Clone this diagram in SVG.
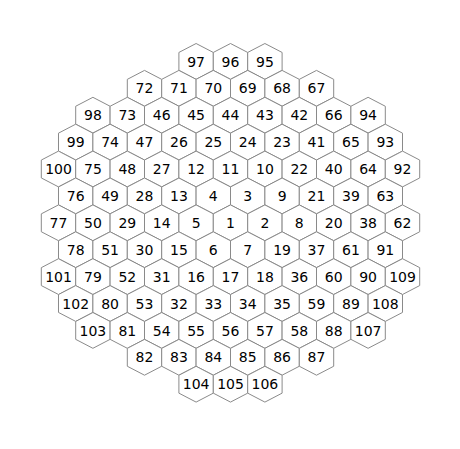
<svg xmlns="http://www.w3.org/2000/svg" xmlns:xlink="http://www.w3.org/1999/xlink" width="460" height="449" viewBox="0 0 460 449">
<style>
.h{fill:#ffffff;stroke:#8a8a8a;stroke-width:1}
text{font-family:"DejaVu Sans","Liberation Sans",sans-serif;font-size:14px;fill:#000;text-anchor:middle}
</style>
<defs>
<polygon id="hex" class="h" points="0,-17.9 17.2,-8.95 17.2,8.95 0,17.9 -17.2,8.95 -17.2,-8.95"/>
</defs>
<rect width="460" height="449" fill="#ffffff"/>
<g id="nodes">
<g id="n97" transform="translate(196.1,61.4)"><use href="#hex"/><text y="5.1">97</text></g>
<g id="n96" transform="translate(230.5,61.4)"><use href="#hex"/><text y="5.1">96</text></g>
<g id="n95" transform="translate(264.9,61.4)"><use href="#hex"/><text y="5.1">95</text></g>

<g id="n72" transform="translate(144.5,88.3)"><use href="#hex"/><text y="5.1">72</text></g>
<g id="n71" transform="translate(178.9,88.3)"><use href="#hex"/><text y="5.1">71</text></g>
<g id="n70" transform="translate(213.3,88.3)"><use href="#hex"/><text y="5.1">70</text></g>
<g id="n69" transform="translate(247.7,88.3)"><use href="#hex"/><text y="5.1">69</text></g>
<g id="n68" transform="translate(282.1,88.3)"><use href="#hex"/><text y="5.1">68</text></g>
<g id="n67" transform="translate(316.5,88.3)"><use href="#hex"/><text y="5.1">67</text></g>

<g id="n98" transform="translate(92.9,115.2)"><use href="#hex"/><text y="5.1">98</text></g>
<g id="n73" transform="translate(127.3,115.2)"><use href="#hex"/><text y="5.1">73</text></g>
<g id="n46" transform="translate(161.7,115.2)"><use href="#hex"/><text y="5.1">46</text></g>
<g id="n45" transform="translate(196.1,115.2)"><use href="#hex"/><text y="5.1">45</text></g>
<g id="n44" transform="translate(230.5,115.2)"><use href="#hex"/><text y="5.1">44</text></g>
<g id="n43" transform="translate(264.9,115.2)"><use href="#hex"/><text y="5.1">43</text></g>
<g id="n42" transform="translate(299.3,115.2)"><use href="#hex"/><text y="5.1">42</text></g>
<g id="n66" transform="translate(333.7,115.2)"><use href="#hex"/><text y="5.1">66</text></g>
<g id="n94" transform="translate(368.1,115.2)"><use href="#hex"/><text y="5.1">94</text></g>

<g id="n99" transform="translate(75.7,142.1)"><use href="#hex"/><text y="5.1">99</text></g>
<g id="n74" transform="translate(110.1,142.1)"><use href="#hex"/><text y="5.1">74</text></g>
<g id="n47" transform="translate(144.5,142.1)"><use href="#hex"/><text y="5.1">47</text></g>
<g id="n26" transform="translate(178.9,142.1)"><use href="#hex"/><text y="5.1">26</text></g>
<g id="n25" transform="translate(213.3,142.1)"><use href="#hex"/><text y="5.1">25</text></g>
<g id="n24" transform="translate(247.7,142.1)"><use href="#hex"/><text y="5.1">24</text></g>
<g id="n23" transform="translate(282.1,142.1)"><use href="#hex"/><text y="5.1">23</text></g>
<g id="n41" transform="translate(316.5,142.1)"><use href="#hex"/><text y="5.1">41</text></g>
<g id="n65" transform="translate(350.9,142.1)"><use href="#hex"/><text y="5.1">65</text></g>
<g id="n93" transform="translate(385.3,142.1)"><use href="#hex"/><text y="5.1">93</text></g>

<g id="n100" transform="translate(58.5,169)"><use href="#hex"/><text y="5.1">100</text></g>
<g id="n75" transform="translate(92.9,169)"><use href="#hex"/><text y="5.1">75</text></g>
<g id="n48" transform="translate(127.3,169)"><use href="#hex"/><text y="5.1">48</text></g>
<g id="n27" transform="translate(161.7,169)"><use href="#hex"/><text y="5.1">27</text></g>
<g id="n12" transform="translate(196.1,169)"><use href="#hex"/><text y="5.1">12</text></g>
<g id="n11" transform="translate(230.5,169)"><use href="#hex"/><text y="5.1">11</text></g>
<g id="n10" transform="translate(264.9,169)"><use href="#hex"/><text y="5.1">10</text></g>
<g id="n22" transform="translate(299.3,169)"><use href="#hex"/><text y="5.1">22</text></g>
<g id="n40" transform="translate(333.7,169)"><use href="#hex"/><text y="5.1">40</text></g>
<g id="n64" transform="translate(368.1,169)"><use href="#hex"/><text y="5.1">64</text></g>
<g id="n92" transform="translate(402.5,169)"><use href="#hex"/><text y="5.1">92</text></g>

<g id="n76" transform="translate(75.7,195.9)"><use href="#hex"/><text y="5.1">76</text></g>
<g id="n49" transform="translate(110.1,195.9)"><use href="#hex"/><text y="5.1">49</text></g>
<g id="n28" transform="translate(144.5,195.9)"><use href="#hex"/><text y="5.1">28</text></g>
<g id="n13" transform="translate(178.9,195.9)"><use href="#hex"/><text y="5.1">13</text></g>
<g id="n4" transform="translate(213.3,195.9)"><use href="#hex"/><text y="5.1">4</text></g>
<g id="n3" transform="translate(247.7,195.9)"><use href="#hex"/><text y="5.1">3</text></g>
<g id="n9" transform="translate(282.1,195.9)"><use href="#hex"/><text y="5.1">9</text></g>
<g id="n21" transform="translate(316.5,195.9)"><use href="#hex"/><text y="5.1">21</text></g>
<g id="n39" transform="translate(350.9,195.9)"><use href="#hex"/><text y="5.1">39</text></g>
<g id="n63" transform="translate(385.3,195.9)"><use href="#hex"/><text y="5.1">63</text></g>

<g id="n77" transform="translate(58.5,222.8)"><use href="#hex"/><text y="5.1">77</text></g>
<g id="n50" transform="translate(92.9,222.8)"><use href="#hex"/><text y="5.1">50</text></g>
<g id="n29" transform="translate(127.3,222.8)"><use href="#hex"/><text y="5.1">29</text></g>
<g id="n14" transform="translate(161.7,222.8)"><use href="#hex"/><text y="5.1">14</text></g>
<g id="n5" transform="translate(196.1,222.8)"><use href="#hex"/><text y="5.1">5</text></g>
<g id="n1" transform="translate(230.5,222.8)"><use href="#hex"/><text y="5.1">1</text></g>
<g id="n2" transform="translate(264.9,222.8)"><use href="#hex"/><text y="5.1">2</text></g>
<g id="n8" transform="translate(299.3,222.8)"><use href="#hex"/><text y="5.1">8</text></g>
<g id="n20" transform="translate(333.7,222.8)"><use href="#hex"/><text y="5.1">20</text></g>
<g id="n38" transform="translate(368.1,222.8)"><use href="#hex"/><text y="5.1">38</text></g>
<g id="n62" transform="translate(402.5,222.8)"><use href="#hex"/><text y="5.1">62</text></g>

<g id="n78" transform="translate(75.7,249.7)"><use href="#hex"/><text y="5.1">78</text></g>
<g id="n51" transform="translate(110.1,249.7)"><use href="#hex"/><text y="5.1">51</text></g>
<g id="n30" transform="translate(144.5,249.7)"><use href="#hex"/><text y="5.1">30</text></g>
<g id="n15" transform="translate(178.9,249.7)"><use href="#hex"/><text y="5.1">15</text></g>
<g id="n6" transform="translate(213.3,249.7)"><use href="#hex"/><text y="5.1">6</text></g>
<g id="n7" transform="translate(247.7,249.7)"><use href="#hex"/><text y="5.1">7</text></g>
<g id="n19" transform="translate(282.1,249.7)"><use href="#hex"/><text y="5.1">19</text></g>
<g id="n37" transform="translate(316.5,249.7)"><use href="#hex"/><text y="5.1">37</text></g>
<g id="n61" transform="translate(350.9,249.7)"><use href="#hex"/><text y="5.1">61</text></g>
<g id="n91" transform="translate(385.3,249.7)"><use href="#hex"/><text y="5.1">91</text></g>

<g id="n101" transform="translate(58.5,276.6)"><use href="#hex"/><text y="5.1">101</text></g>
<g id="n79" transform="translate(92.9,276.6)"><use href="#hex"/><text y="5.1">79</text></g>
<g id="n52" transform="translate(127.3,276.6)"><use href="#hex"/><text y="5.1">52</text></g>
<g id="n31" transform="translate(161.7,276.6)"><use href="#hex"/><text y="5.1">31</text></g>
<g id="n16" transform="translate(196.1,276.6)"><use href="#hex"/><text y="5.1">16</text></g>
<g id="n17" transform="translate(230.5,276.6)"><use href="#hex"/><text y="5.1">17</text></g>
<g id="n18" transform="translate(264.9,276.6)"><use href="#hex"/><text y="5.1">18</text></g>
<g id="n36" transform="translate(299.3,276.6)"><use href="#hex"/><text y="5.1">36</text></g>
<g id="n60" transform="translate(333.7,276.6)"><use href="#hex"/><text y="5.1">60</text></g>
<g id="n90" transform="translate(368.1,276.6)"><use href="#hex"/><text y="5.1">90</text></g>
<g id="n109" transform="translate(402.5,276.6)"><use href="#hex"/><text y="5.1">109</text></g>

<g id="n102" transform="translate(75.7,303.5)"><use href="#hex"/><text y="5.1">102</text></g>
<g id="n80" transform="translate(110.1,303.5)"><use href="#hex"/><text y="5.1">80</text></g>
<g id="n53" transform="translate(144.5,303.5)"><use href="#hex"/><text y="5.1">53</text></g>
<g id="n32" transform="translate(178.9,303.5)"><use href="#hex"/><text y="5.1">32</text></g>
<g id="n33" transform="translate(213.3,303.5)"><use href="#hex"/><text y="5.1">33</text></g>
<g id="n34" transform="translate(247.7,303.5)"><use href="#hex"/><text y="5.1">34</text></g>
<g id="n35" transform="translate(282.1,303.5)"><use href="#hex"/><text y="5.1">35</text></g>
<g id="n59" transform="translate(316.5,303.5)"><use href="#hex"/><text y="5.1">59</text></g>
<g id="n89" transform="translate(350.9,303.5)"><use href="#hex"/><text y="5.1">89</text></g>
<g id="n108" transform="translate(385.3,303.5)"><use href="#hex"/><text y="5.1">108</text></g>

<g id="n103" transform="translate(92.9,330.4)"><use href="#hex"/><text y="5.1">103</text></g>
<g id="n81" transform="translate(127.3,330.4)"><use href="#hex"/><text y="5.1">81</text></g>
<g id="n54" transform="translate(161.7,330.4)"><use href="#hex"/><text y="5.1">54</text></g>
<g id="n55" transform="translate(196.1,330.4)"><use href="#hex"/><text y="5.1">55</text></g>
<g id="n56" transform="translate(230.5,330.4)"><use href="#hex"/><text y="5.1">56</text></g>
<g id="n57" transform="translate(264.9,330.4)"><use href="#hex"/><text y="5.1">57</text></g>
<g id="n58" transform="translate(299.3,330.4)"><use href="#hex"/><text y="5.1">58</text></g>
<g id="n88" transform="translate(333.7,330.4)"><use href="#hex"/><text y="5.1">88</text></g>
<g id="n107" transform="translate(368.1,330.4)"><use href="#hex"/><text y="5.1">107</text></g>

<g id="n82" transform="translate(144.5,357.3)"><use href="#hex"/><text y="5.1">82</text></g>
<g id="n83" transform="translate(178.9,357.3)"><use href="#hex"/><text y="5.1">83</text></g>
<g id="n84" transform="translate(213.3,357.3)"><use href="#hex"/><text y="5.1">84</text></g>
<g id="n85" transform="translate(247.7,357.3)"><use href="#hex"/><text y="5.1">85</text></g>
<g id="n86" transform="translate(282.1,357.3)"><use href="#hex"/><text y="5.1">86</text></g>
<g id="n87" transform="translate(316.5,357.3)"><use href="#hex"/><text y="5.1">87</text></g>

<g id="n104" transform="translate(196.1,384.2)"><use href="#hex"/><text y="5.1">104</text></g>
<g id="n105" transform="translate(230.5,384.2)"><use href="#hex"/><text y="5.1">105</text></g>
<g id="n106" transform="translate(264.9,384.2)"><use href="#hex"/><text y="5.1">106</text></g>
</g>
</svg>
